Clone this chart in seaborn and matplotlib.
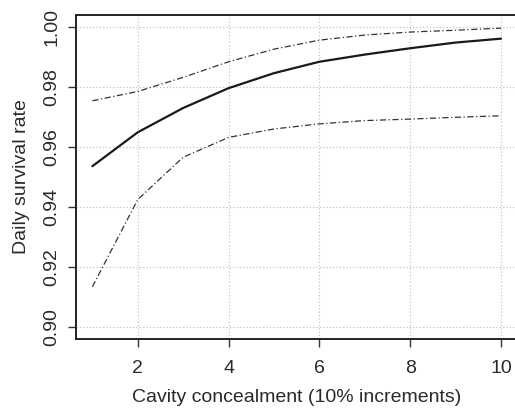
import matplotlib
matplotlib.use("Agg")
import matplotlib.pyplot as plt
import numpy as np
import pandas as pd
import seaborn as sns

# Daily survival rate vs cavity concealment, with confidence limits
concealment = [1, 2, 3, 4, 5, 6, 7, 8, 9, 10]
dsr_mean = [0.9536, 0.9649, 0.9730, 0.9796, 0.9846, 0.9884, 0.9908, 0.9929, 0.9948, 0.9961]
dsr_upper = [0.9754, 0.9785, 0.9832, 0.9884, 0.9926, 0.9956, 0.9973, 0.9983, 0.9989, 0.9996]
dsr_lower = [0.9134, 0.9425, 0.9566, 0.9632, 0.9660, 0.9677, 0.9688, 0.9693, 0.9699, 0.9704]

x_ticks = [2, 4, 6, 8, 10]
y_ticks = [0.90, 0.92, 0.94, 0.96, 0.98, 1.00]

df = pd.DataFrame({'x': concealment, 'mean': dsr_mean, 'upper': dsr_upper, 'lower': dsr_lower})

sns.set_style('white')
plt.rcParams['font.family'] = ['Liberation Sans', 'DejaVu Sans']

fig = plt.figure(figsize=(5.15, 4.15), dpi=100)
ax = fig.add_axes([0.1476, 0.183, 0.857, 0.781])

sns.lineplot(data=df, x='x', y='mean', ax=ax, color='#1a1a1a', lw=1.6)
sns.lineplot(data=df, x='x', y='upper', ax=ax, color='#333333', lw=0.9, linestyle=(0, (5, 2, 1, 2)))
sns.lineplot(data=df, x='x', y='lower', ax=ax, color='#333333', lw=0.9, linestyle=(0, (5, 2, 1, 2)))

ax.set_xlim(0.64, 10.36)
ax.set_ylim(0.896, 1.004)
ax.set_xticks(x_ticks)
ax.set_yticks(y_ticks)
ax.set_xticklabels([str(t) for t in x_ticks])
ax.set_yticklabels([f'{t:.2f}' for t in y_ticks], rotation=90, va='center')

ax.grid(True, color='#bbbbbb', linestyle=(0, (1, 2)), lw=0.8)
for s in ax.spines.values():
    s.set_color('#222222')
    s.set_linewidth(1.4)

ax.tick_params(axis='both', direction='out', length=6, width=1, color='#333333',
               labelsize=14, labelcolor='#2a2a2a')
ax.tick_params(axis='x', bottom=True, pad=9)
ax.tick_params(axis='y', left=True, pad=5)

ax.set_xlabel('Cavity concealment (10% increments)', fontsize=14, color='#2a2a2a', labelpad=9)
ax.set_ylabel('Daily survival rate', fontsize=14, color='#2a2a2a', labelpad=10)

fig.savefig('out.png', dpi=100)
